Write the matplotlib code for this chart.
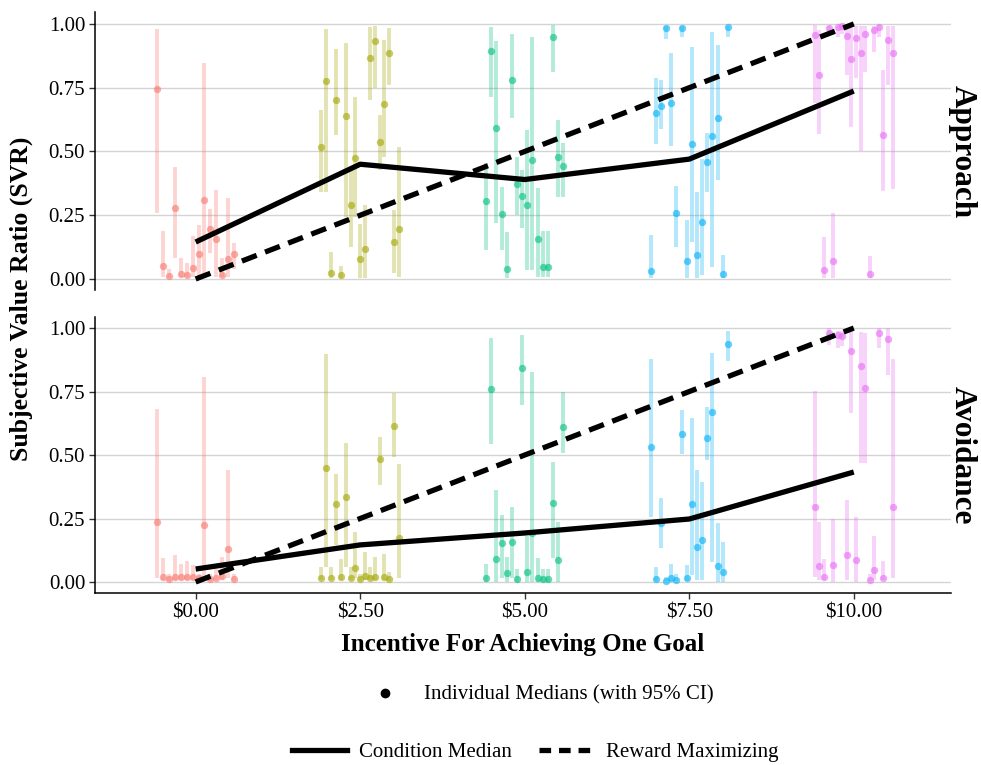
import matplotlib
matplotlib.use("Agg")
import matplotlib.pyplot as plt
from matplotlib.lines import Line2D
import numpy as np

plt.rcParams['font.family'] = ['Liberation Serif', 'DejaVu Serif']

incentives = [0.0, 2.5, 5.0, 7.5, 10.0]
tick_labels = ['\\$0.00', '\\$2.50', '\\$5.00', '\\$7.50', '\\$10.00']
colors = ['#F8766D', '#A3A500', '#00BF7D', '#00B0F6', '#E76BF3']

# individual medians (per incentive level) with 95% CI, approach condition
appr_y = [
    [0.744, 0.052, 0.012, 0.278, 0.018, 0.017, 0.044, 0.098, 0.31, 0.195, 0.156, 0.016, 0.077, 0.097],
    [0.519, 0.778, 0.022, 0.702, 0.015, 0.639, 0.29, 0.476, 0.077, 0.116, 0.865, 0.933, 0.536, 0.686, 0.888, 0.146, 0.195],
    [0.306, 0.894, 0.593, 0.254, 0.04, 0.78, 0.373, 0.327, 0.29, 0.467, 0.157, 0.048, 0.048, 0.95, 0.477, 0.443],
    [0.033, 0.652, 0.678, 0.983, 0.69, 0.257, 0.986, 0.072, 0.528, 0.094, 0.225, 0.459, 0.56, 0.633, 0.018, 0.987],
    [0.955, 0.80, 0.035, 0.986, 0.072, 0.987, 0.992, 0.954, 0.864, 0.945, 0.885, 0.96, 0.02, 0.975, 0.987, 0.565, 0.936, 0.885],
]
appr_lo = [
    [0.26, 0.009, 0.003, 0.081, 0.009, 0.009, 0.009, 0.009, 0.009, 0.103, 0.009, 0.009, 0.009, 0.04],
    [0.342, 0.342, 0.003, 0.565, 0.003, 0.244, 0.127, 0.244, 0.003, 0.003, 0.70, 0.75, 0.427, 0.48, 0.76, 0.022, 0.009],
    [0.114, 0.715, 0.218, 0.114, 0.003, 0.63, 0.251, 0.199, 0.035, 0.035, 0.009, 0.009, 0.009, 0.81, 0.323, 0.323],
    [0.003, 0.53, 0.59, 0.94, 0.52, 0.127, 0.95, 0.003, 0.146, 0.003, 0.016, 0.342, 0.048, 0.388, 0.003, 0.95],
    [0.69, 0.569, 0.003, 0.96, 0.003, 0.95, 0.96, 0.80, 0.597, 0.79, 0.503, 0.81, 0.003, 0.89, 0.95, 0.346, 0.76, 0.352],
]
appr_hi = [
    [0.98, 0.19, 0.038, 0.44, 0.081, 0.064, 0.169, 0.21, 0.846, 0.274, 0.349, 0.081, 0.319, 0.14],
    [0.663, 0.979, 0.107, 0.90, 0.05, 0.927, 0.44, 0.715, 0.216, 0.29, 0.987, 0.99, 0.643, 0.937, 0.983, 0.27, 0.519],
    [0.454, 0.987, 0.935, 0.362, 0.186, 0.96, 0.48, 0.427, 0.584, 0.95, 0.356, 0.19, 0.19, 0.996, 0.624, 0.532],
    [0.172, 0.79, 0.78, 0.99, 0.887, 0.365, 0.99, 0.231, 0.909, 0.342, 0.469, 0.571, 0.967, 0.918, 0.094, 0.99],
    [0.996, 0.976, 0.163, 0.99, 0.258, 0.99, 0.99, 0.99, 0.983, 0.99, 0.99, 0.99, 0.09, 0.99, 0.995, 0.82, 0.99, 0.99],
]

# avoidance condition
avoid_y = [
    [0.235, 0.018, 0.011, 0.021, 0.018, 0.021, 0.018, 0.015, 0.224, 0.011, 0.017, 0.024, 0.131, 0.011],
    [0.017, 0.448, 0.017, 0.306, 0.021, 0.336, 0.017, 0.054, 0.011, 0.025, 0.016, 0.021, 0.483, 0.021, 0.011, 0.615, 0.174],
    [0.015, 0.76, 0.092, 0.155, 0.034, 0.159, 0.013, 0.841, 0.038, 0.192, 0.017, 0.013, 0.013, 0.312, 0.087, 0.611],
    [0.53, 0.012, 0.231, 0.005, 0.014, 0.008, 0.581, 0.014, 0.307, 0.139, 0.165, 0.568, 0.67, 0.063, 0.038, 0.937],
    [0.294, 0.064, 0.018, 0.981, 0.067, 0.972, 0.97, 0.106, 0.911, 0.087, 0.85, 0.762, 0.008, 0.047, 0.981, 0.015, 0.955, 0.294],
]
avoid_lo = [
    [0.015, 0.008, 0.005, 0.008, 0.008, 0.008, 0.008, 0.008, 0.021, 0.005, 0.008, 0.008, 0.015, 0.005],
    [0.008, 0.06, 0.008, 0.146, 0.008, 0.06, 0.008, 0.015, 0.005, 0.008, 0.008, 0.008, 0.382, 0.008, 0.005, 0.493, 0.015],
    [0.001, 0.543, 0.001, 0.015, 0.001, 0.015, 0.001, 0.697, 0.001, 0.001, 0.001, 0.001, 0.001, 0.093, 0.001, 0.507],
    [0.257, 0.003, 0.133, 0.002, 0.003, 0.002, 0.504, 0.003, 0.028, 0.008, 0.008, 0.48, 0.08, 0.001, 0.001, 0.87],
    [0.021, 0.008, 0.008, 0.933, 0.001, 0.92, 0.93, 0.008, 0.664, 0.001, 0.467, 0.467, 0.003, 0.008, 0.92, 0.008, 0.815, 0.015],
]
avoid_hi = [
    [0.68, 0.093, 0.03, 0.106, 0.07, 0.083, 0.065, 0.03, 0.806, 0.03, 0.05, 0.10, 0.44, 0.03],
    [0.06, 0.898, 0.06, 0.425, 0.09, 0.546, 0.06, 0.198, 0.03, 0.12, 0.06, 0.10, 0.572, 0.11, 0.04, 0.743, 0.465],
    [0.071, 0.96, 0.362, 0.264, 0.10, 0.296, 0.05, 0.972, 0.181, 0.828, 0.094, 0.05, 0.05, 0.474, 0.237, 0.749],
    [0.88, 0.06, 0.33, 0.02, 0.07, 0.03, 0.677, 0.065, 0.644, 0.441, 0.395, 0.69, 0.90, 0.231, 0.159, 0.99],
    [0.753, 0.237, 0.091, 0.999, 0.25, 0.99, 0.99, 0.323, 0.992, 0.257, 0.985, 0.979, 0.03, 0.181, 0.999, 0.081, 0.999, 0.877],
]

appr_median = [0.145, 0.45, 0.39, 0.47, 0.737]
avoid_median = [0.051, 0.146, 0.193, 0.248, 0.433]
reward_max = [0.0, 0.25, 0.5, 0.75, 1.0]

DODGE = 1.25


def dodge(center, n):
    # ggplot-style position_dodge
    w = DODGE / n
    return center - DODGE / 2 + w / 2 + w * np.arange(n)


fig = plt.figure(figsize=(9.81, 7.65), dpi=100)
ax1 = fig.add_axes([0.0968, 0.6203, 0.8728, 0.3634])
ax2 = fig.add_axes([0.0968, 0.2243, 0.8728, 0.3618])

panels = [(ax1, appr_y, appr_lo, appr_hi, appr_median, 'Approach'),
          (ax2, avoid_y, avoid_lo, avoid_hi, avoid_median, 'Avoidance')]

for ax, ys, los, his, med, name in panels:
    for i, lvl in enumerate(incentives):
        xs = dodge(lvl, len(ys[i]))
        ax.vlines(xs, los[i], his[i], color=colors[i], alpha=0.3, lw=2.8, zorder=2)
        ax.scatter(xs, ys[i], s=28, color=colors[i], alpha=0.6, linewidths=0, zorder=3)
    ax.plot(incentives, med, color='black', lw=3.8, solid_capstyle='butt', zorder=5)
    ax.plot(incentives, reward_max, color='black', lw=3.8, ls=(0, (3, 1.7)),
            dash_capstyle='butt', zorder=5)
    ax.set_xlim(-1.53, 11.48)
    ax.set_ylim(-0.045, 1.045)
    ax.set_yticks([0, 0.25, 0.5, 0.75, 1.0])
    ax.set_yticklabels(['0.00', '0.25', '0.50', '0.75', '1.00'])
    ax.grid(axis='y', color='#d4d4d4', lw=1.0, zorder=0)
    ax.set_axisbelow(True)
    for s in ['top', 'right']:
        ax.spines[s].set_visible(False)
    ax.spines['left'].set_linewidth(1.1)
    ax.spines['bottom'].set_linewidth(1.1)
    ax.tick_params(axis='both', labelsize=15, length=4, width=1, color='#333333',
                   labelcolor='black', pad=3)
    ax.text(1.013, 0.5, name, transform=ax.transAxes, rotation=-90, ha='center',
            va='center', fontsize=22.5, fontweight='bold')

ax1.spines['bottom'].set_visible(False)
ax1.tick_params(axis='x', bottom=False, labelbottom=False)
ax2.set_xticks(incentives)
ax2.set_xticklabels(tick_labels)
ax2.set_xlabel('Incentive For Achieving One Goal', fontsize=18, fontweight='bold', labelpad=8)

fig.text(0.022, 0.61, 'Subjective Value Ratio (SVR)', rotation=90, ha='center', va='center',
         fontsize=18.5, fontweight='bold')

pt_handle = Line2D([], [], marker='o', color='black', ls='none', markersize=6)
fig.legend([pt_handle], ['Individual Medians (with 95% CI)'], loc='center',
           bbox_to_anchor=(539 / 981, 1 - 695 / 765), frameon=False, fontsize=15,
           handletextpad=0.85)

ln_handles = [Line2D([], [], color='black', lw=3.8),
              Line2D([], [], color='black', lw=3.8, ls=(0, (2.2, 1.5)))]
fig.legend(ln_handles, ['Condition Median', 'Reward Maximizing'], loc='center',
           bbox_to_anchor=(535 / 981, 1 - 752 / 765), frameon=False, fontsize=15,
           ncol=2, handlelength=2.64, handletextpad=0.58, columnspacing=1.3)

fig.savefig('out.png', dpi=100)
